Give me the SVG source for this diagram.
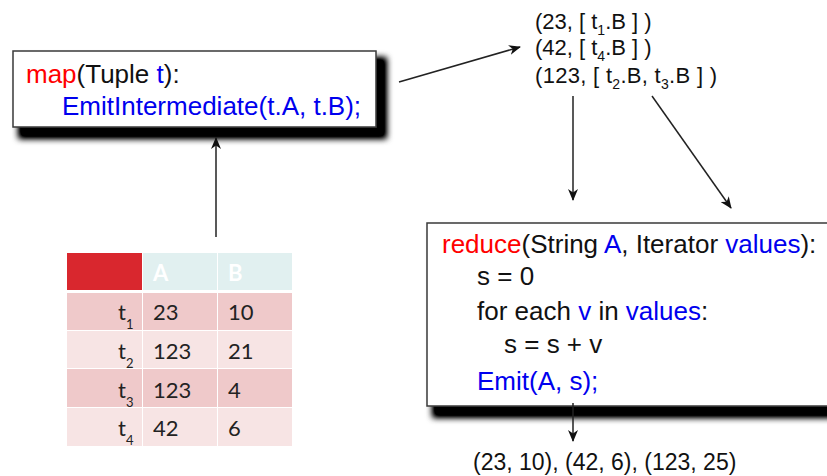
<svg xmlns="http://www.w3.org/2000/svg" width="827" height="476" viewBox="0 0 827 476">
<style>
  .code { font-family: "Liberation Sans", Arial, sans-serif; font-size: 26px; fill: #111; }
  .r { fill: #ff0000; }
  .b { fill: #0000ee; }
  .list { font-family: "Liberation Sans", Arial, sans-serif; font-size: 22px; fill: #111; }
  .sub { font-size: 14px; }
  .box { fill: #ffffff; stroke: #3a3a3a; stroke-width: 1.5; }
  .cell { font-family: Lato, "Liberation Sans", sans-serif; font-size: 22px; fill: #222; }
  .hdr { font-family: Lato, "Liberation Sans", sans-serif; font-size: 22px; font-weight: bold; fill: #ffffff; }
  .odd { fill: #efc9ca; }
  .even { fill: #f7e4e4; }
  .conn { stroke: #222; stroke-width: 1.5; fill: none; marker-end: url(#arr); }
</style>
<defs>
  <filter id="shadow" x="-10%" y="-20%" width="130%" height="150%">
    <feMorphology in="SourceAlpha" operator="dilate" radius="1.5" result="d"/>
    <feGaussianBlur in="d" stdDeviation="3"/>
    <feOffset dx="8" dy="9" result="b"/>
    <feComponentTransfer><feFuncA type="linear" slope="1.3"/></feComponentTransfer>
    <feMerge><feMergeNode/><feMergeNode in="SourceGraphic"/></feMerge>
  </filter>
  <marker id="arr" viewBox="0 0 12 10" refX="11" refY="5" markerWidth="12" markerHeight="10" markerUnits="userSpaceOnUse" orient="auto">
    <path d="M0,0 L12,5 L0,10 L3.5,5 z" fill="#111"/>
  </marker>
</defs>

<g id="map">
  <rect class="box" x="13" y="51" width="363" height="76" filter="url(#shadow)"/>
  <text class="code" x="26" y="83"><tspan class="r">map</tspan>(Tuple <tspan class="b">t</tspan>):</text>
  <text class="code b" x="62" y="115">EmitIntermediate(t.A, t.B);</text>
</g>

<g id="intermediate">
  <text class="list" x="535" y="29">(23, [ t<tspan class="sub" dy="6">1</tspan><tspan dy="-6">.B ] )</tspan></text>
  <text class="list" x="535" y="55">(42, [ t<tspan class="sub" dy="6">4</tspan><tspan dy="-6">.B ] )</tspan></text>
  <text class="list" x="535" y="83" letter-spacing="0.3">(123, [ t<tspan class="sub" dy="6">2</tspan><tspan dy="-6">.B, t</tspan><tspan class="sub" dy="6">3</tspan><tspan dy="-6">.B ] )</tspan></text>
</g>

<g id="reduce">
  <rect class="box" x="427" y="223" width="420" height="183" filter="url(#shadow)"/>
  <text class="code" x="442" y="253"><tspan class="r">reduce</tspan>(String <tspan class="b">A</tspan>, Iterator <tspan class="b">values</tspan>):</text>
  <text class="code" x="477" y="285">s = 0</text>
  <text class="code" x="477" y="320">for each <tspan class="b">v</tspan> in <tspan class="b">values</tspan>:</text>
  <text class="code" x="504" y="353">s = s + v</text>
  <text class="code b" x="477" y="390">Emit(A, s);</text>
</g>

<g id="output">
  <text class="list" x="473" y="470" style="font-size:23px">(23, 10), (42, 6), (123, 25)</text>
</g>

<g id="table">
  <rect x="67" y="253" width="75" height="37" fill="#d9272e"/>
  <rect x="143" y="253" width="74" height="37" fill="#e1f0f0"/>
  <rect x="218" y="253" width="74" height="37" fill="#e1f0f0"/>
  <text class="hdr" x="153" y="281">A</text>
  <text class="hdr" x="228" y="281">B</text>

  <rect class="odd" x="67" y="293" width="75" height="37"/>
  <rect class="odd" x="143" y="293" width="74" height="37"/>
  <rect class="odd" x="218" y="293" width="74" height="37"/>
  <rect class="even" x="67" y="331" width="75" height="37"/>
  <rect class="even" x="143" y="331" width="74" height="37"/>
  <rect class="even" x="218" y="331" width="74" height="37"/>
  <rect class="odd" x="67" y="369" width="75" height="38"/>
  <rect class="odd" x="143" y="369" width="74" height="38"/>
  <rect class="odd" x="218" y="369" width="74" height="38"/>
  <rect class="even" x="67" y="408" width="75" height="38"/>
  <rect class="even" x="143" y="408" width="74" height="38"/>
  <rect class="even" x="218" y="408" width="74" height="38"/>

  <text class="cell" x="118" y="320">t<tspan font-size="13" dy="9">1</tspan></text>
  <text class="cell" x="118" y="359">t<tspan font-size="13" dy="9">2</tspan></text>
  <text class="cell" x="118" y="398">t<tspan font-size="13" dy="9">3</tspan></text>
  <text class="cell" x="118" y="436">t<tspan font-size="13" dy="9">4</tspan></text>

  <text class="cell" x="153" y="320">23</text>
  <text class="cell" x="228" y="320">10</text>
  <text class="cell" x="153" y="359">123</text>
  <text class="cell" x="228" y="359">21</text>
  <text class="cell" x="153" y="398">123</text>
  <text class="cell" x="228" y="398">4</text>
  <text class="cell" x="153" y="436">42</text>
  <text class="cell" x="228" y="436">6</text>
</g>

<g id="connectors">
  <line class="conn" x1="216" y1="237" x2="216" y2="138"/>
  <line class="conn" x1="399" y1="82" x2="520" y2="47"/>
  <line class="conn" x1="573" y1="96" x2="573" y2="200"/>
  <line class="conn" x1="652" y1="96" x2="731" y2="208"/>
  <line class="conn" x1="573" y1="403" x2="573" y2="441"/>
</g>
</svg>
